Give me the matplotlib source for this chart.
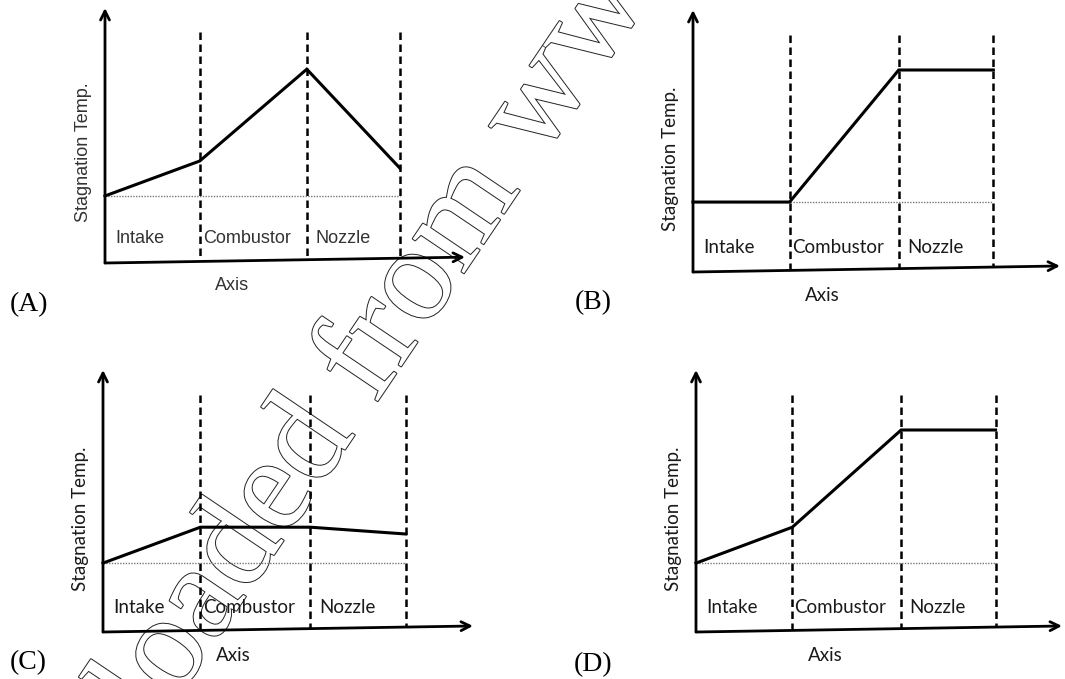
import matplotlib
matplotlib.use("Agg")
import matplotlib.pyplot as plt
import matplotlib.patheffects as pe

W, H = 1065, 679

# station positions along the engine axis (intake in, combustor in, nozzle in, nozzle out)
stations = [0.0, 1.0, 2.13, 3.11]

# stagnation temperature at each station, one list per option
temp_a = [2.63, 4.0, 7.6, 3.73]
temp_b = [2.67, 2.67, 7.71, 7.71]
temp_c = [2.63, 4.0, 4.0, 3.74]
temp_d = [2.63, 4.0, 7.71, 7.71]

sections = ["Intake", "Combustor", "Nozzle"]
section_x = [0.37, 1.5, 2.51]
panel_names = ["(A)", "(B)", "(C)", "(D)"]

# pixel boxes: left, top, right, bottom
boxes = [(105, 8, 465, 263), (693, 10, 1060, 272),
         (103, 370, 473, 632), (696, 370, 1062, 632)]
letter_pos = [(29, 305), (593, 303), (28, 663), (593, 665)]

fig = plt.figure(figsize=(W / 100, H / 100), dpi=100)

# watermark behind everything
fig.text(310 / W, 1 - 443 / H, "Downloaded from www", family="Liberation Serif",
         fontsize=97, rotation=56, rotation_mode="anchor", ha="center", va="center",
         color="white", zorder=-1,
         path_effects=[pe.Stroke(linewidth=1.4, foreground="#222222"), pe.Normal()])

tilt = 0.23
xmax, ymax = 3.8, 10.0


def panel(box, temps, font, fsize, col):
    l, t, r, b = box
    ax = fig.add_axes([l / W, 1 - b / H, (r - l) / W, (b - t) / H])
    ax.set_xlim(0, xmax)
    ax.set_ylim(0, ymax)
    ax.axis("off")
    ax.patch.set_visible(False)

    # axes arrows
    ax.annotate("", xy=(0, ymax), xytext=(0, 0),
                arrowprops=dict(arrowstyle="->", lw=2.0, color="black",
                                mutation_scale=16, shrinkA=0, shrinkB=0))
    ax.annotate("", xy=(xmax, tilt), xytext=(0, 0),
                arrowprops=dict(arrowstyle="->", lw=2.0, color="black",
                                mutation_scale=16, shrinkA=0, shrinkB=0))

    # dashed section boundaries (drawn top-down so a dash starts at the top)
    for s in stations[1:]:
        ax.plot([s, s], [9.05, tilt * s / xmax], color="black", lw=1.8,
                ls=(0, (3.0, 1.8)), clip_on=False)

    # dotted reference level
    ax.plot([stations[0], stations[-1]], [temps[0], temps[0]], color="#777777",
            lw=1.0, ls=(0, (1, 1)), clip_on=False)

    # temperature profile
    ax.plot(stations, temps, color="black", lw=2.2, clip_on=False,
            solid_joinstyle="miter")

    for name, x in zip(sections, section_x):
        ax.text(x, 0.95, name, family=font, fontsize=fsize, color=col,
                ha="center", va="center")
    ax.text(1.34, -0.88, "Axis", family=font, fontsize=fsize, color=col,
            ha="center", va="center")
    ax.text(-0.23, 4.33, "Stagnation Temp.", family=font, fontsize=fsize,
            color=col, rotation=90, ha="center", va="center")
    return ax


panel(boxes[0], temp_a, "Liberation Sans", 13, "#333333")
panel(boxes[1], temp_b, "Lato", 13.5, "#1a1a1a")
panel(boxes[2], temp_c, "Lato", 13.5, "#1a1a1a")
panel(boxes[3], temp_d, "Lato", 13.5, "#1a1a1a")

for name, (x, y) in zip(panel_names, letter_pos):
    fig.text(x / W, 1 - y / H, name, family="Liberation Serif", fontsize=20,
             ha="center", va="center", color="black")

fig.savefig("out.png", dpi=100, facecolor="white")
